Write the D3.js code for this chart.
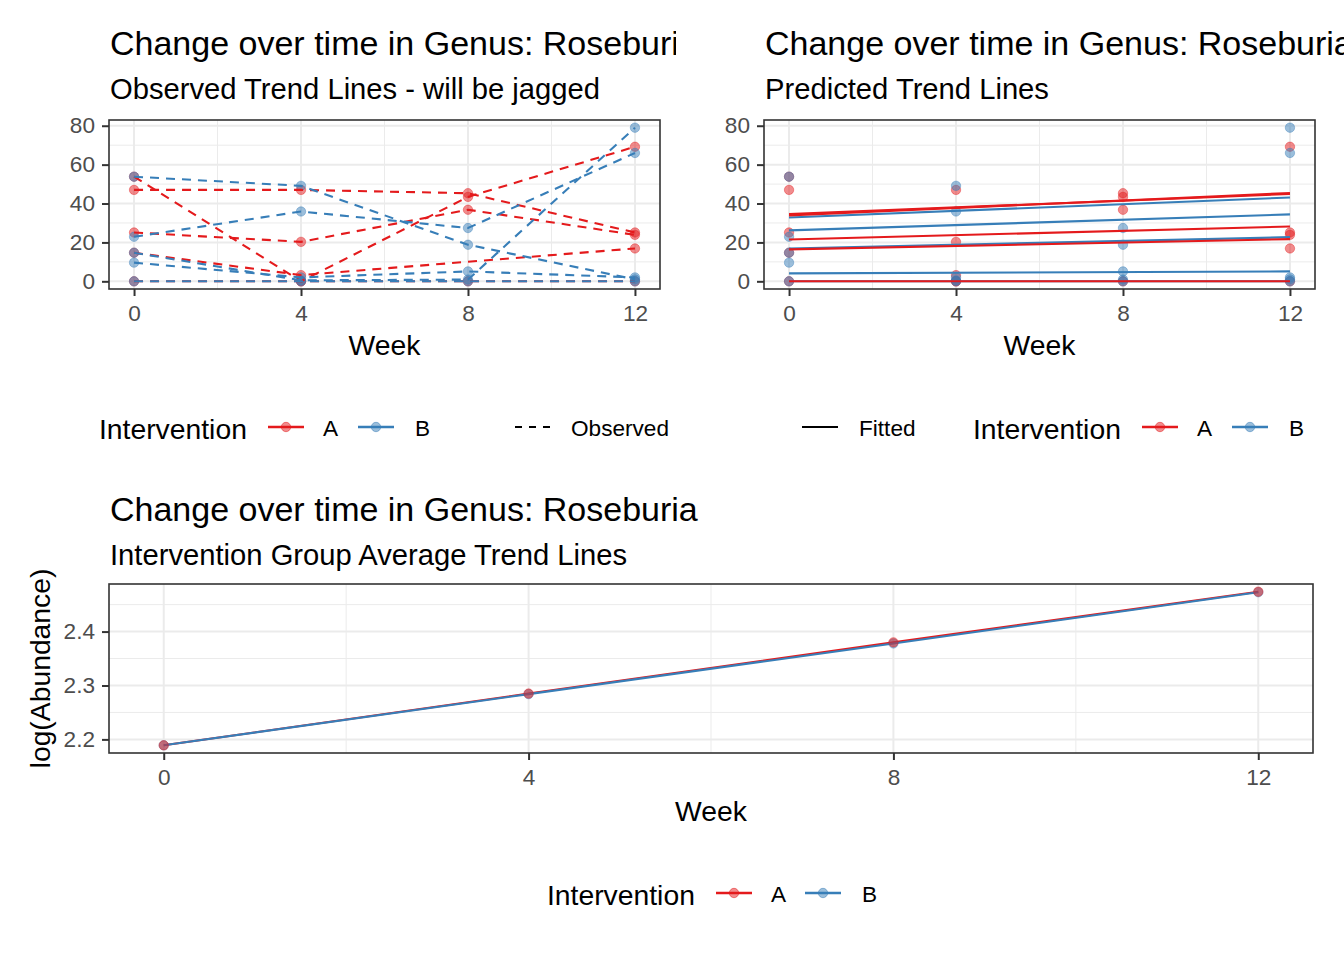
<!DOCTYPE html>
<html>
<head>
<meta charset="utf-8">
<script src="https://cdn.jsdelivr.net/npm/d3@7"></script>
<style>
  body { margin: 0; background: #fff; }
  svg { font-family: "Liberation Sans", Arial, sans-serif; }
</style>
</head>
<body>
<svg id="chart" width="1344" height="960"></svg>
<script>
// weeks sampled
var weeks = [0, 4, 8, 12];
var xTicks = [0, 4, 8, 12];
var xMinor = [2, 6, 10];

// observed abundance per subject (null = missing visit)
var obsA = [
  [53.8, 0, 43.4, 69.2],
  [47.0, 47.0, 45.3, 25.1],
  [25.1, 20.3, 36.8, 23.9],
  [14.7, 3.2, null, 16.9],
  [0, 0, 0, 0]
];
var obsB = [
  [53.8, 49.1, 18.8, 1.0],
  [22.9, 35.9, 27.4, 66.0],
  [9.6, 2.0, 5.1, 2.0],
  [14.7, 0.5, 0.9, 79.0],
  [0, 0, 0, 0]
];

// fitted lines, value at week 0 and week 12
var fitWeeks = [0, 12];
var fitA = [[33.9, 45.4], [34.6, 44.9], [21.5, 28.2], [16.4, 21.7], [0, 0]];
var fitB = [[32.8, 43.1], [26.2, 34.4], [16.9, 22.7], [4.1, 5.1], [0, 0]];

var yTicksTop = [0, 20, 40, 60, 80];
var yMinorTop = [10, 30, 50, 70];

// group average log(abundance)
var avgA = [2.189, 2.285, 2.380, 2.474];
var avgB = [2.189, 2.284, 2.378, 2.473];
var yTicksLog = [2.2, 2.3, 2.4];
var yMinorLog = [2.25, 2.35, 2.45];

var red = "#E41A1C", blue = "#377EB8";
var svg = d3.select("#chart");

svg.append("clipPath").attr("id", "leftClip")
  .append("rect").attr("x", 0).attr("y", 0).attr("width", 676).attr("height", 470);

function expand(ext) {
  var p = (ext[1] - ext[0]) * 0.05;
  return [ext[0] - p, ext[1] + p];
}

function frame(g, box, x, y, yMinor, yTicks) {
  // grid
  g.selectAll(".minx").data(xMinor).enter().append("line")
    .attr("x1", x).attr("x2", x).attr("y1", box.y0).attr("y2", box.y1)
    .attr("stroke", "#EBEBEB").attr("stroke-width", 1);
  g.selectAll(".miny").data(yMinor).enter().append("line")
    .attr("x1", box.x0).attr("x2", box.x1).attr("y1", y).attr("y2", y)
    .attr("stroke", "#EBEBEB").attr("stroke-width", 1);
  g.selectAll(".majx").data(xTicks).enter().append("line")
    .attr("x1", x).attr("x2", x).attr("y1", box.y0).attr("y2", box.y1)
    .attr("stroke", "#EBEBEB").attr("stroke-width", 2);
  g.selectAll(".majy").data(yTicks).enter().append("line")
    .attr("x1", box.x0).attr("x2", box.x1).attr("y1", y).attr("y2", y)
    .attr("stroke", "#EBEBEB").attr("stroke-width", 2);

  var xa = g.append("g").attr("transform", "translate(0," + box.y1 + ")")
    .call(d3.axisBottom(x).tickValues(xTicks).tickSize(7).tickPadding(9).tickSizeOuter(0));
  var ya = g.append("g").attr("transform", "translate(" + box.x0 + ",0)")
    .call(d3.axisLeft(y).tickValues(yTicks).tickSize(7).tickPadding(7).tickSizeOuter(0)
      .tickFormat(function (d) { return d3.format("")(d); }));
  [xa, ya].forEach(function (a) {
    a.select(".domain").remove();
    a.selectAll("line").attr("stroke", "#333333").attr("stroke-width", 2);
    a.selectAll("text").attr("fill", "#4D4D4D").style("font-size", "22.6px");
  });
}

function border(g, box) {
  g.append("rect").attr("x", box.x0).attr("y", box.y0)
    .attr("width", box.x1 - box.x0).attr("height", box.y1 - box.y0)
    .attr("fill", "none").attr("stroke", "#333333").attr("stroke-width", 1.6);
}

function titles(g, x, y, title, sub) {
  g.append("text").attr("x", x).attr("y", y).text(title)
    .style("font-size", "34px").attr("fill", "#000");
  g.append("text").attr("x", x).attr("y", y + 44).text(sub)
    .style("font-size", "29.2px").attr("fill", "#000");
}

function points(g, rows, color, x, y, xs) {
  rows.forEach(function (r) {
    r.forEach(function (v, i) {
      if (v == null) return;
      g.append("circle").attr("cx", x(xs[i])).attr("cy", y(v)).attr("r", 4.7)
        .attr("fill", color).attr("fill-opacity", 0.5)
        .attr("stroke", color).attr("stroke-opacity", 0.5).attr("stroke-width", 0.8);
    });
  });
}

function lines(g, rows, color, x, y, xs, dash) {
  var line = d3.line().x(function (d) { return x(d[0]); }).y(function (d) { return y(d[1]); });
  rows.forEach(function (r) {
    var pts = [];
    r.forEach(function (v, i) { if (v != null) pts.push([xs[i], v]); });
    g.append("path").attr("d", line(pts)).attr("fill", "none")
      .attr("stroke", color).attr("stroke-width", 2.1)
      .attr("stroke-dasharray", dash || null);
  });
}

function legendItem(g, x0, cy, color, label, textX) {
  g.append("line").attr("x1", x0).attr("x2", x0 + 36).attr("y1", cy).attr("y2", cy)
    .attr("stroke", color).attr("stroke-width", 2.4);
  g.append("circle").attr("cx", x0 + 18).attr("cy", cy).attr("r", 4.7)
    .attr("fill", color).attr("fill-opacity", 0.5).attr("stroke", color).attr("stroke-opacity", 0.5);
  g.append("text").attr("x", textX).attr("y", cy + 9).text(label).style("font-size", "22.6px");
}

function weekLabel(g, cx, y) {
  g.append("text").attr("x", cx).attr("y", y).attr("text-anchor", "middle")
    .text("Week").style("font-size", "28.3px");
}

var allObs = obsA.concat(obsB).reduce(function (a, r) { return a.concat(r.filter(function (v) { return v != null; })); }, []);
var yTopDomain = expand(d3.extent(allObs));
var xDomain = expand(d3.extent(weeks));

// ---- top left: observed
var boxL = { x0: 109, x1: 660, y0: 120, y1: 289 };
var gL = svg.append("g").attr("clip-path", "url(#leftClip)");
var xL = d3.scaleLinear().domain(xDomain).range([boxL.x0, boxL.x1]);
var yL = d3.scaleLinear().domain(yTopDomain).range([boxL.y1, boxL.y0]);
frame(gL, boxL, xL, yL, yMinorTop, yTicksTop);
points(gL, obsA, red, xL, yL, weeks);
points(gL, obsB, blue, xL, yL, weeks);
lines(gL, obsA, red, xL, yL, weeks, "9,7");
lines(gL, obsB, blue, xL, yL, weeks, "9,7");
border(gL, boxL);
titles(gL, 110, 55, "Change over time in Genus: Roseburia", "Observed Trend Lines - will be jagged");
weekLabel(gL, (boxL.x0 + boxL.x1) / 2, 355);
gL.append("text").attr("x", 99).attr("y", 439).text("Intervention").style("font-size", "28.3px");
legendItem(gL, 268, 427, red, "A", 323);
legendItem(gL, 358, 427, blue, "B", 415);
gL.append("line").attr("x1", 515).attr("x2", 551).attr("y1", 427).attr("y2", 427)
  .attr("stroke", "#000").attr("stroke-width", 2.2).attr("stroke-dasharray", "7,7");
gL.append("text").attr("x", 571).attr("y", 436).text("Observed").style("font-size", "22.6px");

// ---- top right: predicted
var boxR = { x0: 764, x1: 1315, y0: 120, y1: 289 };
var gR = svg.append("g");
var xR = d3.scaleLinear().domain(xDomain).range([boxR.x0, boxR.x1]);
var yR = d3.scaleLinear().domain(yTopDomain).range([boxR.y1, boxR.y0]);
frame(gR, boxR, xR, yR, yMinorTop, yTicksTop);
points(gR, obsA, red, xR, yR, weeks);
points(gR, obsB, blue, xR, yR, weeks);
lines(gR, fitB, blue, xR, yR, fitWeeks);
lines(gR, fitA, red, xR, yR, fitWeeks);
border(gR, boxR);
titles(gR, 765, 55, "Change over time in Genus: Roseburia", "Predicted Trend Lines");
weekLabel(gR, (boxR.x0 + boxR.x1) / 2, 355);
gR.append("line").attr("x1", 802).attr("x2", 838).attr("y1", 427).attr("y2", 427)
  .attr("stroke", "#000").attr("stroke-width", 2.2);
gR.append("text").attr("x", 859).attr("y", 436).text("Fitted").style("font-size", "22.6px");
gR.append("text").attr("x", 973).attr("y", 439).text("Intervention").style("font-size", "28.3px");
legendItem(gR, 1142, 427, red, "A", 1197);
legendItem(gR, 1232, 427, blue, "B", 1289);

// ---- bottom: group averages
var boxB = { x0: 109, x1: 1313, y0: 584, y1: 753 };
var gB = svg.append("g");
var xB = d3.scaleLinear().domain(xDomain).range([boxB.x0, boxB.x1]);
var yB = d3.scaleLinear().domain(expand(d3.extent(avgA.concat(avgB)))).range([boxB.y1, boxB.y0]);
frame(gB, boxB, xB, yB, yMinorLog, yTicksLog);
lines(gB, [avgA], red, xB, yB, weeks);
lines(gB, [avgB], blue, xB, yB, weeks);
points(gB, [avgB], blue, xB, yB, weeks);
points(gB, [avgA], red, xB, yB, weeks);
border(gB, boxB);
titles(gB, 110, 521, "Change over time in Genus: Roseburia", "Intervention Group Average Trend Lines");
weekLabel(gB, (boxB.x0 + boxB.x1) / 2, 821);
gB.append("text").attr("transform", "translate(50," + ((boxB.y0 + boxB.y1) / 2) + ") rotate(-90)")
  .attr("text-anchor", "middle").text("log(Abundance)").style("font-size", "28.3px");
gB.append("text").attr("x", 547).attr("y", 905).text("Intervention").style("font-size", "28.3px");
legendItem(gB, 716, 893, red, "A", 771);
legendItem(gB, 805, 893, blue, "B", 862);
</script>
</body>
</html>
